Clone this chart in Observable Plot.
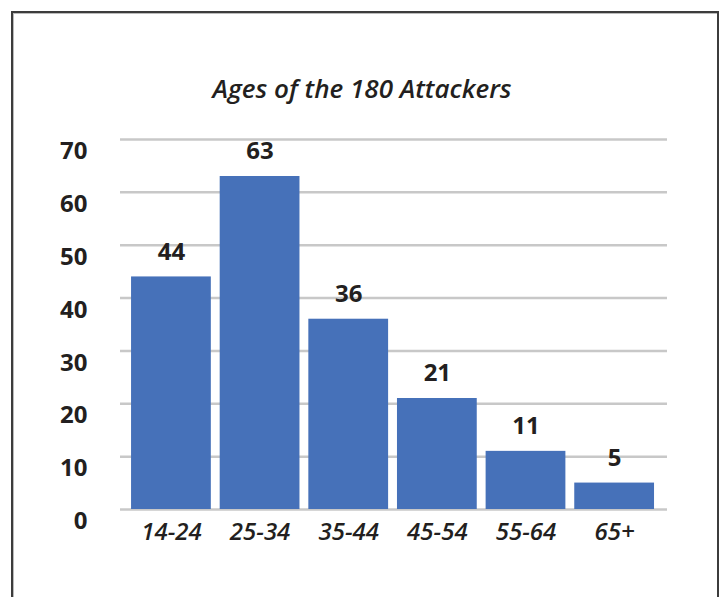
<!DOCTYPE html>
<html>
<head>
<meta charset="utf-8">
<script src="https://cdn.jsdelivr.net/npm/d3@7"></script>
<script src="https://cdn.jsdelivr.net/npm/@observablehq/plot@0.6"></script>
<style>
  html, body { margin: 0; padding: 0; background: #fff; overflow: hidden; }
  #wrap { position: relative; width: 721px; height: 597px; }
  #border { position: absolute; left: 11px; top: 11px; width: 704px; height: 620px;
            border-left: 2px solid #3c3c3c; border-top: 2px solid #3c3c3c; border-right: 2px solid #3c3c3c;
            box-shadow: inset 1px 1px 0 #bbb; pointer-events: none; }
  #chart { position: absolute; left: 0; top: 0; }
</style>
</head>
<body>
<div id="wrap"><div id="chart"></div><div id="border"></div></div>
<script>
const ageGroups = ["14-24", "25-34", "35-44", "45-54", "55-64", "65+"];
const attackers = [44, 63, 36, 21, 11, 5];
const yTicks = [0, 10, 20, 30, 40, 50, 60, 70];
const titleText = "Ages of the 180 Attackers";

const data = ageGroups.map((g, i) => ({group: g, count: attackers[i]}));
const font = "'Open Sans', sans-serif";
const ink = "#231f20";

const chart = Plot.plot({
  width: 721,
  height: 597,
  marginTop: 139,
  marginBottom: 88,
  marginLeft: 120,
  marginRight: 54,
  style: {fontFamily: font, color: ink, background: "transparent"},
  x: {domain: ageGroups, paddingInner: 0.1, paddingOuter: 0.1355, align: 0.46, round: false, label: null},
  y: {domain: [0, 70], label: null},
  marks: [
    Plot.ruleY(yTicks, {stroke: "#c8c8c8", strokeWidth: 2.5}),
    Plot.barY(data, {x: "group", y: "count", fill: "#4671b9"}),
    Plot.text(data, {x: "group", y: "count", text: d => String(d.count), dy: -25,
      fontSize: 24, fontWeight: 700, fill: ink}),
    Plot.axisY(yTicks, {tickSize: 0, tickPadding: 33, dy: 12, fontSize: 24, fontWeight: 700,
      fill: ink, label: null, tickFormat: d => String(d)}),
    Plot.axisX({tickSize: 0, tickPadding: 13, fontSize: 24, fontWeight: 600, fontStyle: "italic",
      fill: ink, label: null})
  ]
});

d3.select(chart).append("text")
  .attr("x", 362).attr("y", 98)
  .attr("text-anchor", "middle")
  .attr("font-family", font)
  .attr("font-size", 26)
  .attr("font-style", "italic")
  .attr("font-weight", 600)
  .attr("fill", ink)
  .text(titleText);

document.getElementById("chart").appendChild(chart);
</script>
</body>
</html>
